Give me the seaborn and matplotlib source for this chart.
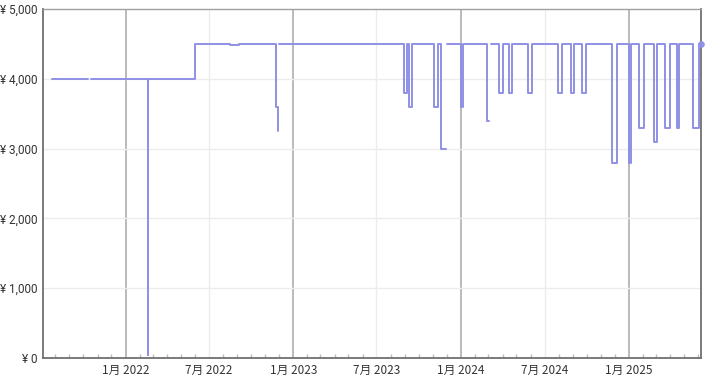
import numpy as np
import pandas as pd
import matplotlib
matplotlib.use("Agg")
import matplotlib.pyplot as plt
import matplotlib.dates as mdates
import seaborn as sns

# ---- data (NaN = gap in the price history) ----
dates = [
    "2021-07-26", "2021-10-11", "2021-10-17", "2022-02-18", "2022-02-19",
    "2022-06-01", "2022-08-17", "2022-09-04", "2022-11-24", "2022-11-28",
    "2022-11-29", "2022-12-02", "2023-08-31", "2023-09-05", "2023-09-09",
    "2023-09-17", "2023-11-04", "2023-11-12", "2023-11-19", "2023-11-29",
    "2023-12-01", "2024-01-01", "2024-01-06", "2024-02-26", "2024-03-03",
    "2024-03-07", "2024-03-24", "2024-04-01", "2024-04-15", "2024-04-22",
    "2024-05-27", "2024-06-03", "2024-07-31", "2024-08-09", "2024-08-28",
    "2024-09-04", "2024-09-21", "2024-09-29", "2024-11-26", "2024-12-05",
    "2025-01-01", "2025-01-06", "2025-01-23", "2025-02-03", "2025-02-25",
    "2025-03-03", "2025-03-20", "2025-03-31", "2025-04-15", "2025-04-20",
    "2025-05-21", "2025-06-02", "2025-06-06",
]
prices = [
    4000, np.nan, 4000, 40, 4000,
    4500, 4480, 4500, 3600, 3250,
    np.nan, 4500, 3800, 4500, 3600,
    4500, 3600, 4500, 3000, np.nan,
    4500, 3600, 4500, 3400, np.nan,
    4500, 3800, 4500, 3800, 4500,
    3800, 4500, 3800, 4500, 3800,
    4500, 3800, 4500, 2800, 4500,
    2800, 4500, 3300, 4500, 3100,
    4500, 3300, 4500, 3300, 4500,
    3300, 4500, 4500,
]
y_ticks = [0, 1000, 2000, 3000, 4000, 5000]
y_labels = ["¥ 0", "¥ 1,000", "¥ 2,000", "¥ 3,000", "¥ 4,000", "¥ 5,000"]
x_ticks = ["2022-01-01", "2022-07-01", "2023-01-01", "2023-07-01",
           "2024-01-01", "2024-07-01", "2025-01-01"]
x_labels = ["1月 2022", "7月 2022", "1月 2023", "7月 2023",
            "1月 2024", "7月 2024", "1月 2025"]
x_range = ["2021-07-06", "2025-06-06"]

# ---- build segments: a gap ends the previous run at the gap's date ----
rows = []
seg = 0
prev = None
for d, p in zip(pd.to_datetime(dates), prices):
    if np.isnan(p):
        if prev is not None:
            rows.append((d, prev, seg))
        seg += 1
        prev = None
    else:
        rows.append((d, p, seg))
        prev = p
df = pd.DataFrame(rows, columns=["date", "price", "seg"])

sns.set_theme(style="white")
plt.rcParams["font.family"] = ["Noto Sans CJK JP", "DejaVu Sans"]

W, H = 709, 376
fig = plt.figure(figsize=(W / 100, H / 100), dpi=100)
ax = fig.add_axes([43.3 / W, 18 / H, (700.7 - 43.3) / W, (358 - 9) / H])

line_color = "#9090e6"
sns.lineplot(data=df, x="date", y="price", units="seg", estimator=None,
             drawstyle="steps-post", color=line_color, lw=1.4, ax=ax,
             legend=False, zorder=3)
ax.scatter([df["date"].iloc[-1]], [df["price"].iloc[-1]], s=14,
           color=line_color, zorder=4, clip_on=False)

ax.set_xlim(pd.to_datetime(x_range[0]), pd.to_datetime(x_range[1]))
ax.set_ylim(0, 5000)

# grid
for t, lab in zip(x_ticks, x_labels):
    c, w = ("#b4b4b4", 1.3) if lab.startswith("1月") else ("#ececec", 1.0)
    ax.axvline(pd.to_datetime(t), color=c, lw=w, zorder=1)
for v in y_ticks[1:-1]:
    ax.axhline(v, color="#ececec", lw=1.0, zorder=1)

ax.set_xticks(pd.to_datetime(x_ticks))
ax.set_xticklabels(x_labels)
ax.set_yticks(y_ticks)
ax.set_yticklabels(y_labels, family=["Roboto", "DejaVu Sans"])
ax.xaxis.set_minor_locator(mdates.MonthLocator())
ax.tick_params(axis="x", which="major", length=0, pad=4, labelsize=8.5,
               labelcolor="#333333")
ax.tick_params(axis="x", which="minor", direction="in", length=3,
               width=1, color="#bbbbbb", bottom=True)
ax.tick_params(axis="y", which="major", length=0, pad=4, labelsize=8.5,
               labelcolor="#333333")
ax.set_xlabel("")
ax.set_ylabel("")

for side in ["left", "bottom", "right"]:
    ax.spines[side].set_color("#707070")
    ax.spines[side].set_linewidth(1.3)
ax.spines["top"].set_color("#a0a0a0")
ax.spines["top"].set_linewidth(1.0)

fig.savefig("out.png", dpi=100)
